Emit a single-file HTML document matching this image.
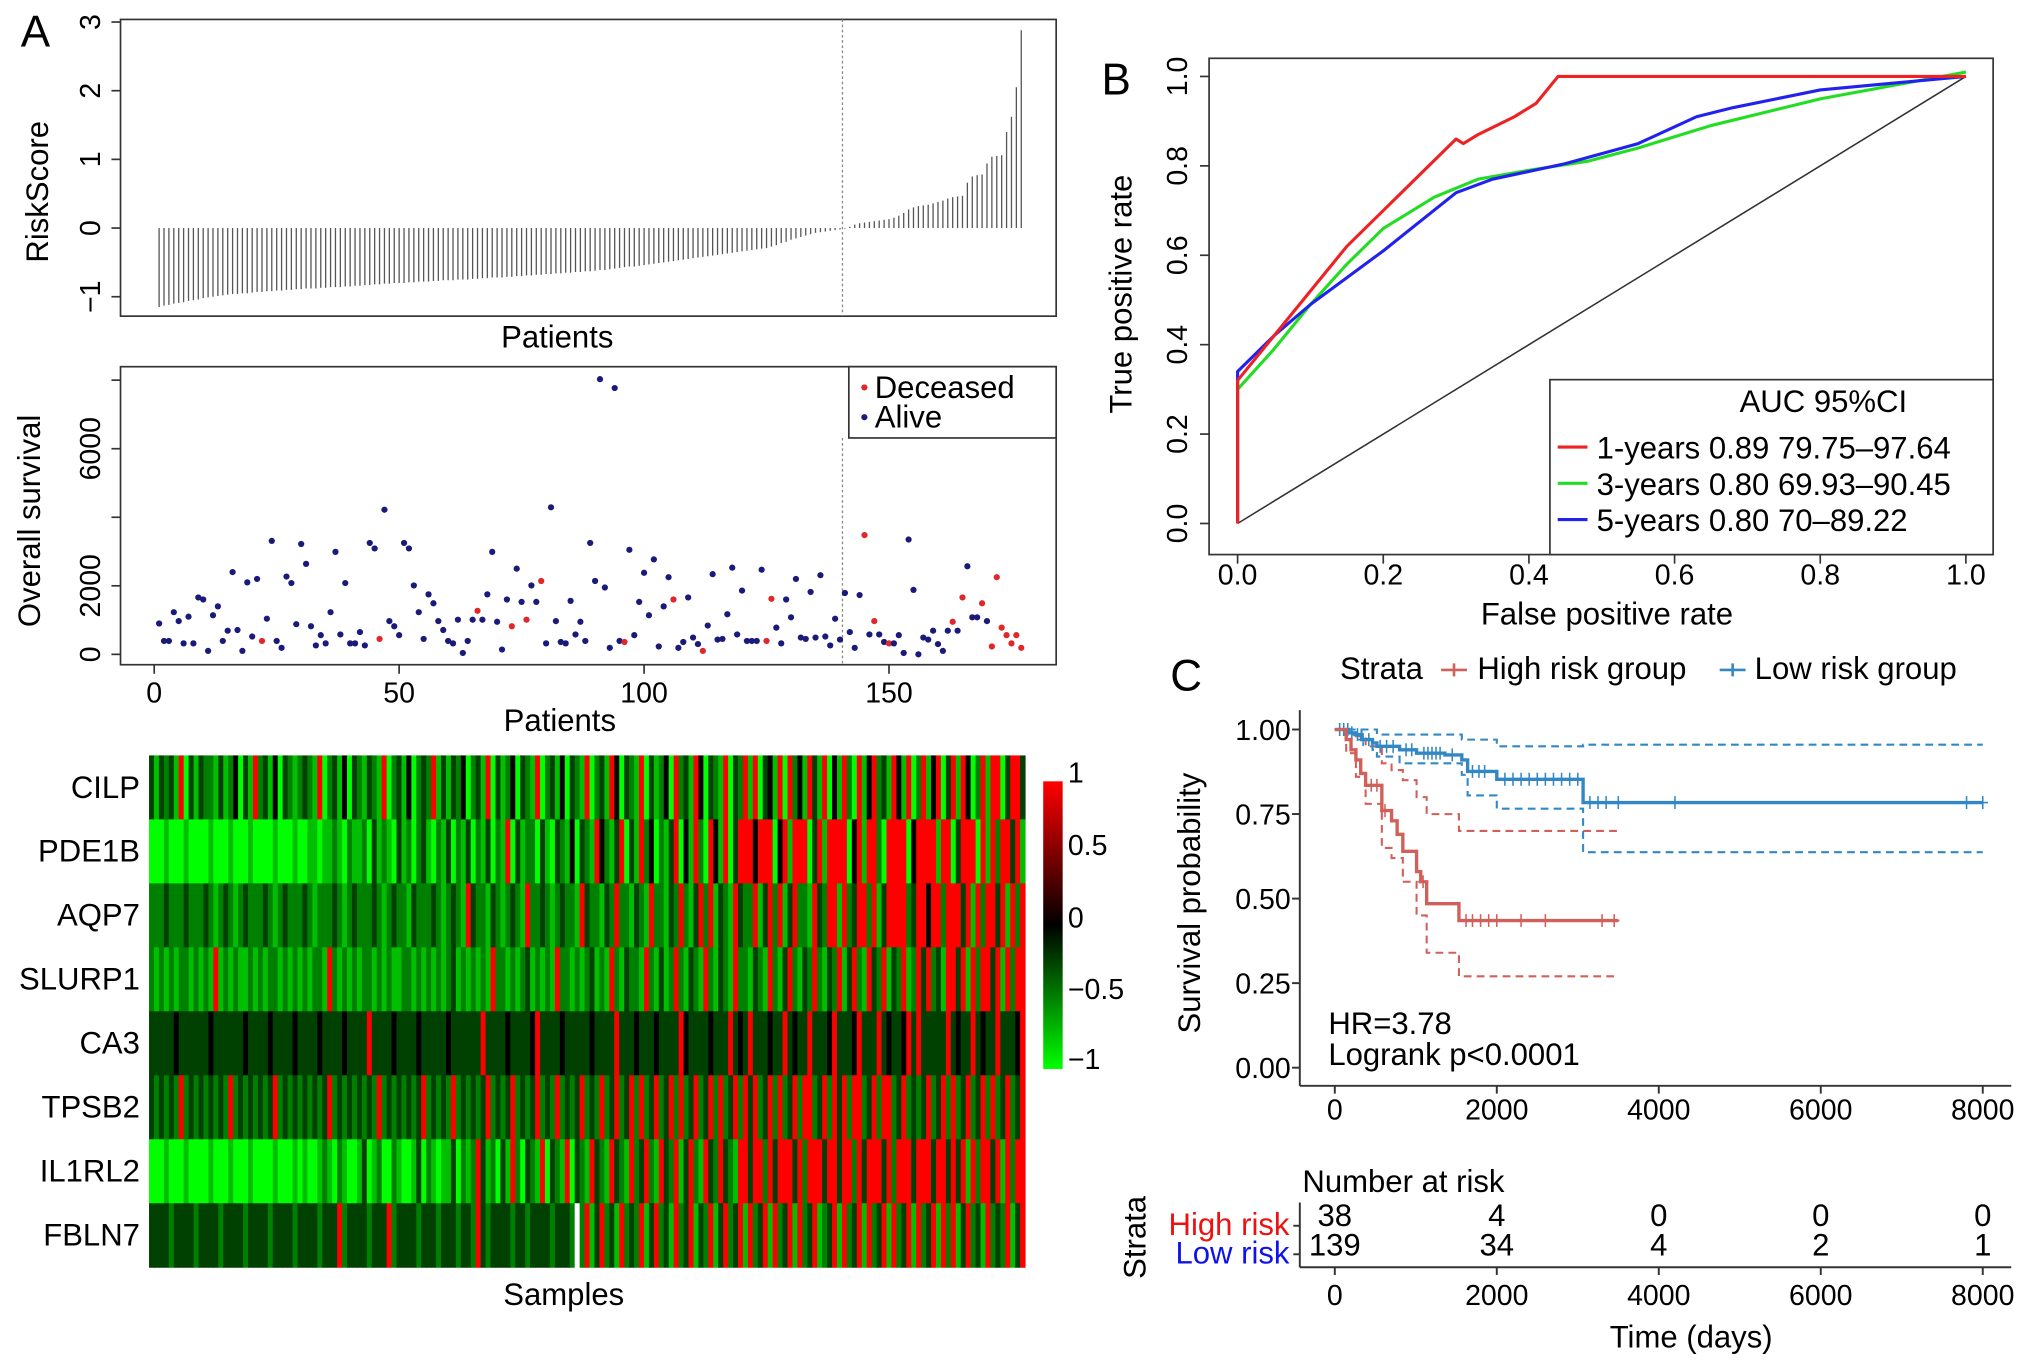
<!DOCTYPE html>
<html><head><meta charset="utf-8"><style>
html,body{margin:0;padding:0;background:#fff;}
svg{display:block;font-family:"Liberation Sans",sans-serif;}
</style></head><body>
<svg id="fig" xmlns="http://www.w3.org/2000/svg" width="2032" height="1367" viewBox="0 0 1568 1055" preserveAspectRatio="none">
<rect x="0" y="0" width="1568" height="1055" fill="#fff"/>
<text x="16" y="36" font-size="34">A</text>
<text x="850" y="73" font-size="34">B</text>
<text x="903" y="533" font-size="34">C</text>
<g id="gA1"></g>
<g id="gA2"></g>
<g id="gA3"></g>
<g id="gB"></g>
<g id="gC"></g>
<g id="gT"></g>
</svg>
<script>
// ---------- data ----------
const riskScores = [-1.15,-1.13,-1.12,-1.10,-1.09,-1.08,-1.06,-1.05,-1.04,-1.02,
-1.01,-1.00,-0.99,-0.98,-0.97,-0.96,-0.96,-0.95,-0.95,-0.94,
-0.93,-0.93,-0.92,-0.92,-0.91,-0.91,-0.90,-0.90,-0.89,-0.89,
-0.88,-0.88,-0.88,-0.87,-0.87,-0.86,-0.86,-0.86,-0.85,-0.85,
-0.84,-0.84,-0.83,-0.83,-0.82,-0.82,-0.81,-0.81,-0.80,-0.80,
-0.80,-0.79,-0.79,-0.78,-0.78,-0.78,-0.77,-0.77,-0.76,-0.76,
-0.76,-0.75,-0.75,-0.75,-0.74,-0.74,-0.73,-0.73,-0.72,-0.72,
-0.72,-0.71,-0.71,-0.70,-0.70,-0.69,-0.69,-0.68,-0.68,-0.67,
-0.67,-0.66,-0.66,-0.65,-0.65,-0.64,-0.64,-0.63,-0.63,-0.62,
-0.61,-0.61,-0.60,-0.59,-0.58,-0.57,-0.56,-0.56,-0.55,-0.54,
-0.53,-0.52,-0.51,-0.50,-0.49,-0.48,-0.47,-0.46,-0.45,-0.44,
-0.43,-0.42,-0.41,-0.40,-0.39,-0.38,-0.37,-0.36,-0.35,-0.34,
-0.33,-0.32,-0.31,-0.30,-0.29,-0.27,-0.25,-0.22,-0.20,-0.17,
-0.15,-0.13,-0.11,-0.09,-0.07,-0.06,-0.05,-0.04,-0.03,-0.02,
-0.01,0.02,0.05,0.07,0.08,0.09,0.10,0.11,0.12,0.13,
0.15,0.18,0.22,0.27,0.30,0.32,0.33,0.34,0.36,0.38,
0.40,0.43,0.45,0.46,0.47,0.66,0.75,0.77,0.78,0.94,
1.04,1.05,1.06,1.40,1.62,2.05,2.88];
const riskCutoff = 140.5;
const riskTicks = [-1,0,1,2,3];
const survDays = [900,390,390,1230,970,320,1100,320,1660,1600,
100,1140,1400,390,690,2400,710,100,2100,520,
2200,390,1040,3310,390,190,2270,2080,880,3220,
2640,820,260,560,320,1230,2990,580,2080,320,
320,650,260,3250,3090,450,4220,970,820,560,
3250,3090,2010,1230,450,1750,1490,970,710,390,
320,1010,40,390,1010,1270,1010,1750,2990,950,
140,1600,820,2500,1530,1010,2010,1530,2140,320,
4290,970,360,320,1560,580,950,390,3250,2140,
8030,1950,190,7770,390,360,3050,560,1530,2380,
1140,2770,230,1400,2250,1600,190,360,1660,490,
300,100,840,2340,430,450,1170,2530,580,1860,
390,390,390,2470,390,1620,780,320,1600,1080,
2200,490,450,1820,490,2310,520,260,1040,430,
1790,650,190,1730,3480,580,970,580,360,320,
320,560,40,3350,1880,0,490,430,690,300,
100,690,950,690,1660,2570,1080,1080,1490,970,
230,2250,780,560,320,560,190];
const survStatus = "000000000000000000000100000000000000000000000100000000000000000001000000100100100000000000000001000000000100000100000000000011000000000000000000101001000000000000101000101111111111";
const survTicks = [0,2000,4000,6000,8000];
const survTickLabels = ["0","2000","","6000",""];
const patientTicks = [0,50,100,150];
const genes = ["CILP","PDE1B","AQP7","SLURP1","CA3","TPSB2","IL1RL2","FBLN7"];
const heatRows = [
"31323180313221312403182314032123218023140321321802314023281313240231803124032180231403218023184032180312408231840321803281803418082418318041820814823184180281480381840281880388381828838182883818288",
"00010001000010001000100001000100110112102112031210312023102130213021302180312203103214032184213803182402138041820841803888488804818880381888804818820888804888818803888081828838182883818288381828",
"22232223222321232123222321232223212223212322232123221322232123218322132123218223212322183221328221321822132821382813218322813828138221832881823882813888823884882888381828838182883818288381828",
"21212122121218121211212122121212122182121212212121122121212123121212182212123121218221212312182132218213128213218213218221321821382132821328138218328132812838231883818288381828838182883818288",
"33333433333343333334333343333433334333343333833334333343333343333338333343333483333433333433338333433343333843333433383438333433834338333483334833383433483833333834338343383334833348338",
"32323282323232328232323238232323232382323232328232323238232328232323823238232382328232382328238238282382382823823828238283823828238288238283828823828823823238238282382382823823828238",
"00010001000010001000100001000101001210210013012002100130210113021283120318203218032180321832183218238218328138218328321883882838883828883883882838883828883888388383818288381828838182883818",
"33332333323333233332333323333233332333823333233382333323332333233283233332332333323332w28138231823281382318238132813823818238182381823812381823818238182381823818281382318232813823182381328"];
const rocFpr1 = [0,0,0.05,0.10,0.15,0.20,0.25,0.30,0.31,0.33,0.38,0.41,0.44,1.0];
const rocTpr1 = [0,0.32,0.42,0.52,0.62,0.70,0.78,0.86,0.85,0.87,0.91,0.94,1.0,1.0];
const rocFpr3 = [0,0,0.05,0.10,0.15,0.20,0.27,0.33,0.40,0.48,0.55,0.65,0.80,1.0];
const rocTpr3 = [0,0.30,0.39,0.49,0.58,0.66,0.73,0.77,0.79,0.81,0.84,0.89,0.95,1.01];
const rocFpr5 = [0,0,0.05,0.10,0.20,0.30,0.35,0.45,0.55,0.63,0.68,0.80,1.0];
const rocTpr5 = [0,0.34,0.42,0.49,0.61,0.74,0.77,0.805,0.85,0.91,0.93,0.97,1.0];
const rocTicks = [0,0.2,0.4,0.6,0.8,1.0];
const rocTickLabels = ["0.0","0.2","0.4","0.6","0.8","1.0"];
const hiTimes = [140,200,260,320,380,580,700,770,840,1010,1060,1135,1533];
const hiSurv = [0.97,0.94,0.91,0.87,0.835,0.76,0.73,0.69,0.64,0.58,0.55,0.485,0.435];
const hiUpTimes = [140,260,380,580,700,840,1010,1135,1533];
const hiUpSurv = [0.99,0.98,0.95,0.90,0.88,0.85,0.80,0.75,0.70];
const hiLoTimes = [140,260,380,580,700,840,1010,1135,1533];
const hiLoSurv = [0.93,0.86,0.78,0.65,0.62,0.55,0.45,0.34,0.27];
const hiEnd = 3500;
const hiCensor = [450,520,620,1090,1620,1700,1800,1900,2000,2300,2600,3300,3450];
const loTimes = [174,250,330,466,520,800,1010,1360,1568,1640,2000,3066];
const loSurv = [0.99,0.985,0.97,0.96,0.95,0.94,0.93,0.925,0.91,0.876,0.853,0.784];
const loUpTimes = [520,1568,2000,3066];
const loUpSurv = [0.985,0.97,0.95,0.955];
const loLoTimes = [330,466,520,800,1568,1640,2000,3066];
const loLoSurv = [0.97,0.94,0.92,0.90,0.866,0.805,0.766,0.637];
const loEnd = 8000;
const loCensor = [60,110,160,210,280,350,420,560,640,720,880,950,1100,1150,1200,1250,1300,1450,1700,1780,1850,2100,2200,2300,2400,2500,2600,2700,2800,2900,3000,3150,3250,3350,3500,4200,7800,8000];
const kmYTicks = [0,0.25,0.5,0.75,1.0];
const kmYTickLabels = ["0.00","0.25","0.50","0.75","1.00"];
const kmXTicks = [0,2000,4000,6000,8000];
const riskTableHigh = ["38","4","0","0","0"];
const riskTableLow = ["139","34","4","2","1"];

// ---------- helpers ----------
const NS = "http://www.w3.org/2000/svg";
function mk(tag, attrs, parent){ const e=document.createElementNS(NS,tag); for(const k in attrs) e.setAttribute(k,attrs[k]); parent.appendChild(e); return e; }
function txt(str, attrs, parent){ const e=mk("text",attrs,parent); e.textContent=str; return e; }

// ---------- Panel A top: risk score ----------
const gA1 = document.getElementById("gA1");
const xP = p => 119 + p*3.78;
const yR = v => 176 - v*53;
let box = mk("rect",{x:93,y:15,width:722,height:229,fill:"none",stroke:"#333","stroke-width":1.3},gA1);


riskScores.forEach((v,i)=>{
  const l = mk("line",{x1:xP(i+1),x2:xP(i+1),y1:yR(0),y2:yR(v),stroke:"#555","stroke-width":1},gA1);
  
  
});
let cut = mk("line",{x1:xP(riskCutoff),x2:xP(riskCutoff),y1:15,y2:244,stroke:"#888","stroke-width":1,"stroke-dasharray":"2,2"},gA1);


riskTicks.forEach(v=>{
  mk("line",{x1:86,x2:93,y1:yR(v),y2:yR(v),stroke:"#333","stroke-width":1.3},gA1);
  const t = txt(v<0?"−"+Math.abs(v):String(v),{x:0,y:0,"font-size":22,"text-anchor":"middle",transform:`translate(77,${yR(v)}) rotate(-90)`},gA1);
  
  
});
let t1 = txt("RiskScore",{x:0,y:0,"font-size":24,"text-anchor":"middle",transform:"translate(37,148) rotate(-90)"},gA1);


let t2 = txt("Patients",{x:430,y:268,"font-size":24,"text-anchor":"middle"},gA1);



// ---------- Panel A middle: survival scatter ----------
const gA2 = document.getElementById("gA2");
const yS = v => 505 - v*0.02645;
box = mk("rect",{x:93,y:283,width:722,height:230,fill:"none",stroke:"#333","stroke-width":1.3},gA2);


cut = mk("line",{x1:xP(riskCutoff),x2:xP(riskCutoff),y1:338,y2:513,stroke:"#888","stroke-width":1,"stroke-dasharray":"2,2"},gA2);


survDays.forEach((v,i)=>{
  const dead = survStatus[i]==="1";
  const c = mk("circle",{cx:xP(i+1),cy:yS(v),r:2.4,fill:dead?"#e0282a":"#1a1a7a"},gA2);
  
  
});
survTicks.forEach((v,i)=>{
  mk("line",{x1:86,x2:93,y1:yS(v),y2:yS(v),stroke:"#333","stroke-width":1.3},gA2);
  if(survTickLabels[i]){
    const t = txt(survTickLabels[i],{x:0,y:0,"font-size":22,"text-anchor":"middle",transform:`translate(77,${yS(v)}) rotate(-90)`},gA2);
    
    
  }
});
patientTicks.forEach(p=>{
  mk("line",{x1:xP(p),x2:xP(p),y1:513,y2:520,stroke:"#333","stroke-width":1.3},gA2);
  const t = txt(String(p),{x:xP(p),y:542,"font-size":22,"text-anchor":"middle"},gA2);
  
  
});
t1 = txt("Overall survival",{x:0,y:0,"font-size":24,"text-anchor":"middle",transform:"translate(31,402) rotate(-90)"},gA2);


t2 = txt("Patients",{x:432,y:564,"font-size":24,"text-anchor":"middle"},gA2);


let lg = mk("rect",{x:655,y:283,width:160,height:55,fill:"#fff",stroke:"#333","stroke-width":1.3},gA2);


mk("circle",{cx:667,cy:299,r:2.4,fill:"#e0282a"},gA2);
mk("circle",{cx:667,cy:322,r:2.4,fill:"#1a1a7a"},gA2);
let le = txt("Deceased",{x:675,y:307,"font-size":24},gA2);


le = txt("Alive",{x:675,y:330,"font-size":24},gA2);



// ---------- Panel A bottom: heatmap ----------
const gA3 = document.getElementById("gA3");
const hx0=115, hx1=791, hy0=583, rowH=(978-583)/genes.length;
const nCols = riskScores.length, cw=(hx1-hx0)/nCols;
function heatColor(v){ if(v>=0) return `rgb(${Math.round(255*v)},0,0)`; return `rgb(0,${Math.round(255*-v)},0)`; }
genes.forEach((g,r)=>{
  const row = heatRows[r];
  for(let c=0;c<nCols;c++){
    const ch = row[c]||"4";
    const fill = ch==="w" ? "#fff" : heatColor((parseInt(ch,10)-4)/4);
    const cell = mk("rect",{x:hx0+c*cw,y:hy0+r*rowH,width:cw+0.4,height:rowH+0.4,fill:fill},gA3);
    
    
  }
  const t = txt(g,{x:108,y:hy0+r*rowH+rowH/2+8,"font-size":24,"text-anchor":"end"},gA3);
  
  
});
let st = txt("Samples",{x:435,y:1007,"font-size":24,"text-anchor":"middle"},gA3);


const defs = mk("defs",{},gA3);
const grad = mk("linearGradient",{id:"cbg",x1:0,y1:0,x2:0,y2:1},defs);
mk("stop",{offset:"0%","stop-color":"#ff0000"},grad);
mk("stop",{offset:"50%","stop-color":"#000000"},grad);
mk("stop",{offset:"100%","stop-color":"#00ff00"},grad);
let cb = mk("rect",{x:805,y:603,width:15,height:222,fill:"url(#cbg)"},gA3);


[["1",604],["0.5",660],["0",716],["−0.5",771],["−1",825]].forEach(([s,y])=>{
  const t = txt(s,{x:824,y:y,"font-size":22},gA3);
  
  
});

// ---------- Panel B: ROC ----------
const gB = document.getElementById("gB");
const xr = f => 955 + f*562;
const yr = t => 404 - t*345;
box = mk("rect",{x:933,y:45,width:605,height:383,fill:"none",stroke:"#333","stroke-width":1.3},gB);


let diag = mk("line",{x1:xr(0),y1:yr(0),x2:xr(1),y2:yr(1),stroke:"#333","stroke-width":1.2},gB);


function poly(xs,ys){ return xs.map((f,i)=>`${xr(f).toFixed(1)},${yr(ys[i]).toFixed(1)}`).join(" "); }
[[rocFpr3,rocTpr3,"#22dd22","roc-3-year"],[rocFpr5,rocTpr5,"#2222ee","roc-5-year"],[rocFpr1,rocTpr1,"#ee2222","roc-1-year"]].forEach(([xs,ys,c,n])=>{
  const p = mk("polyline",{points:poly(xs,ys),fill:"none",stroke:c,"stroke-width":2.4,"stroke-linejoin":"round"},gB);
  
  
});
rocTicks.forEach((v,i)=>{
  mk("line",{x1:xr(v),x2:xr(v),y1:428,y2:435,stroke:"#333","stroke-width":1.3},gB);
  mk("line",{x1:926,x2:933,y1:yr(v),y2:yr(v),stroke:"#333","stroke-width":1.3},gB);
  const tx = txt(rocTickLabels[i],{x:xr(v),y:451,"font-size":22,"text-anchor":"middle"},gB);
  
  
  const ty = txt(rocTickLabels[i],{x:0,y:0,"font-size":22,"text-anchor":"middle",transform:`translate(916,${yr(v)}) rotate(-90)`},gB);
  
  
});
t1 = txt("True positive rate",{x:0,y:0,"font-size":24,"text-anchor":"middle",transform:"translate(873,227) rotate(-90)"},gB);


t2 = txt("False positive rate",{x:1240,y:482,"font-size":24,"text-anchor":"middle"},gB);


lg = mk("rect",{x:1196,y:293,width:342,height:135,fill:"#fff",stroke:"#333","stroke-width":1.3},gB);


le = txt("AUC 95%CI",{x:1407,y:318,"font-size":24,"text-anchor":"middle"},gB);


[["1-years 0.89 79.75–97.64","#ee2222",345],["3-years 0.80 69.93–90.45","#22dd22",373],["5-years 0.80 70–89.22","#2222ee",401]].forEach(([s,c,y])=>{
  mk("line",{x1:1202,x2:1225,y1:y,y2:y,stroke:c,"stroke-width":2.4},gB);
  const t = txt(s,{x:1232,y:y+9,"font-size":24},gB);
  
  
});

// ---------- Panel C: KM ----------
const gC = document.getElementById("gC");
const xk = t => 1030 + t*0.0625;
const yk = s => 824 - s*261;
const HI="#D2605A", LO="#3388C4";
function stepPath(times,surv,end,start){ let d=`M${xk(0)},${yk(start)}`; times.forEach((t,i)=>{ d+=` H${xk(t).toFixed(1)} V${yk(surv[i]).toFixed(1)}`; }); d+=` H${xk(end)}`; return d; }
function survAt(times,surv,t){ let s=1; times.forEach((tt,i)=>{ if(t>=tt) s=surv[i]; }); return s; }
[[hiUpTimes,hiUpSurv,hiEnd,HI,"high-risk-ci-upper"],[hiLoTimes,hiLoSurv,hiEnd,HI,"high-risk-ci-lower"],[loUpTimes,loUpSurv,loEnd,LO,"low-risk-ci-upper"],[loLoTimes,loLoSurv,loEnd,LO,"low-risk-ci-lower"]].forEach(([ts,ss,e,c,n])=>{
  const p = mk("path",{d:stepPath(ts,ss,e,1),fill:"none",stroke:c,"stroke-width":1.6,"stroke-dasharray":"6,4"},gC);
  
  
});
[[loTimes,loSurv,loEnd,LO,loCensor,"low-risk-curve"],[hiTimes,hiSurv,hiEnd,HI,hiCensor,"high-risk-curve"]].forEach(([ts,ss,e,c,cens,n])=>{
  const p = mk("path",{d:stepPath(ts,ss,e,1),fill:"none",stroke:c,"stroke-width":2.6},gC);
  
  
  cens.forEach(t=>{
    const y = yk(survAt(ts,ss,t));
    const m = mk("path",{d:`M${xk(t)},${y-5} V${y+5} M${xk(t)-4},${y} H${xk(t)+4}`,stroke:c,"stroke-width":1.2},gC);
    
    
  });
});
mk("line",{x1:1003,x2:1003,y1:548,y2:838,stroke:"#333","stroke-width":1.5},gC);
mk("line",{x1:1003,x2:1552,y1:838,y2:838,stroke:"#333","stroke-width":1.5},gC);
kmYTicks.forEach((v,i)=>{
  mk("line",{x1:997,x2:1003,y1:yk(v),y2:yk(v),stroke:"#333","stroke-width":1.5},gC);
  const t = txt(kmYTickLabels[i],{x:996,y:yk(v)+8,"font-size":22,"text-anchor":"end"},gC);
  
  
});
kmXTicks.forEach(v=>{
  mk("line",{x1:xk(v),x2:xk(v),y1:838,y2:844,stroke:"#333","stroke-width":1.5},gC);
  const t = txt(String(v),{x:xk(v),y:864,"font-size":22,"text-anchor":"middle"},gC);
  
  
});
t1 = txt("Survival probability",{x:0,y:0,"font-size":24,"text-anchor":"middle",transform:"translate(926,697) rotate(-90)"},gC);


t2 = txt("HR=3.78",{x:1025,y:798,"font-size":24},gC);


t2 = txt("Logrank p<0.0001",{x:1025,y:822,"font-size":24},gC);


le = txt("Strata",{x:1034,y:524,"font-size":24},gC);


mk("path",{d:"M1112,517 H1132 M1122,512 V522",stroke:HI,"stroke-width":2},gC);
le = txt("High risk group",{x:1140,y:524,"font-size":24},gC);


mk("path",{d:"M1327,517 H1347 M1337,512 V522",stroke:LO,"stroke-width":2},gC);
le = txt("Low risk group",{x:1354,y:524,"font-size":24},gC);



// ---------- Risk table ----------
const gT = document.getElementById("gT");
let nt = txt("Number at risk",{x:1005,y:920,"font-size":24},gT);


mk("line",{x1:1003,x2:1003,y1:928,y2:978,stroke:"#333","stroke-width":1.5},gT);
mk("line",{x1:1003,x2:1552,y1:978,y2:978,stroke:"#333","stroke-width":1.5},gT);
mk("line",{x1:998,x2:1003,y1:946,y2:946,stroke:"#333","stroke-width":1.5},gT);
mk("line",{x1:998,x2:1003,y1:968,y2:968,stroke:"#333","stroke-width":1.5},gT);
nt = txt("High risk",{x:995,y:953,"font-size":24,"text-anchor":"end",fill:"#ee1111"},gT);


nt = txt("Low risk",{x:995,y:975,"font-size":24,"text-anchor":"end",fill:"#1111ee"},gT);


kmXTicks.forEach((v,i)=>{
  const a = txt(riskTableHigh[i],{x:xk(v),y:946,"font-size":24,"text-anchor":"middle"},gT);
  
  
  const b = txt(riskTableLow[i],{x:xk(v),y:969,"font-size":24,"text-anchor":"middle"},gT);
  
  
  mk("line",{x1:xk(v),x2:xk(v),y1:978,y2:984,stroke:"#333","stroke-width":1.5},gT);
  const t = txt(String(v),{x:xk(v),y:1007,"font-size":22,"text-anchor":"middle"},gT);
  
  
});
nt = txt("Time (days)",{x:1305,y:1040,"font-size":24,"text-anchor":"middle"},gT);


nt = txt("Strata",{x:0,y:0,"font-size":24,"text-anchor":"middle",transform:"translate(884,955) rotate(-90)"},gT);


</script>
</body></html>
